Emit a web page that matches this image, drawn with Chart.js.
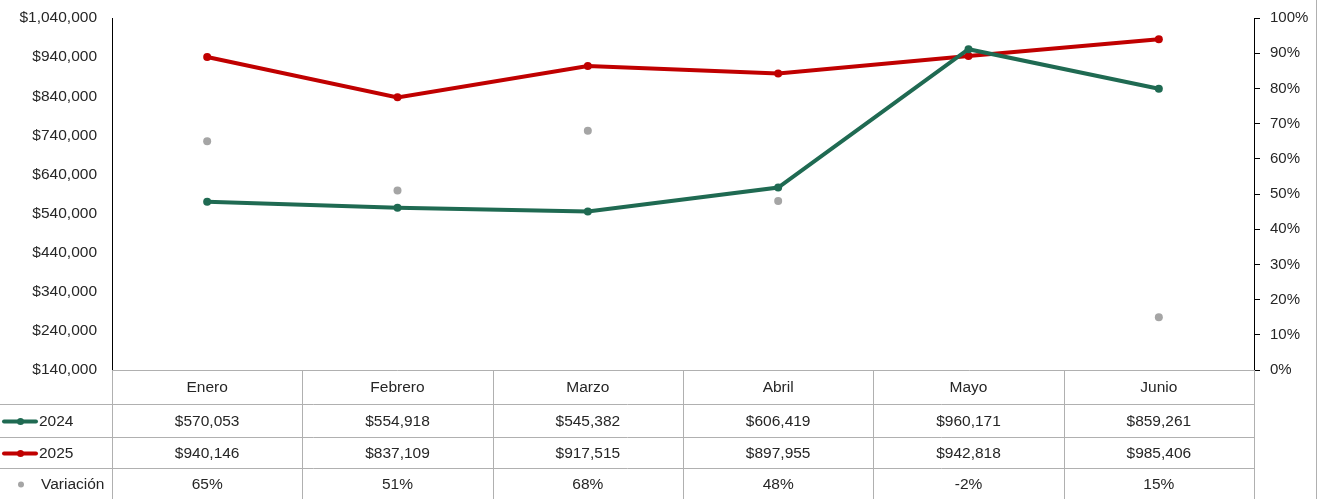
<!DOCTYPE html>
<html>
<head>
<meta charset="utf-8">
<script src="https://cdn.jsdelivr.net/npm/chart.js@4.4.1/dist/chart.umd.min.js"></script>
<style>
  html, body { margin: 0; padding: 0; background: #fff; }
  #wrap { position: relative; width: 1322px; height: 499px; }
</style>
</head>
<body>
<div id="wrap"><canvas id="c" width="1322" height="499"></canvas></div>
<script>
const categories = ['Enero', 'Febrero', 'Marzo', 'Abril', 'Mayo', 'Junio'];
const ventas2024 = [570053, 554918, 545382, 606419, 960171, 859261];
const ventas2025 = [940146, 837109, 917515, 897955, 942818, 985406];
const variacion = [65, 51, 68, 48, -2, 15];
const seriesNames = ['2024', '2025', 'Variación'];

const GREEN = '#1f6a52';
const RED = '#c00000';
const GRAY = '#a5a5a5';
const LINE = '#b0b0b0';
const TEXT = '#262626';
const FONT = "'Liberation Sans', Arial, sans-serif";

const money = v => '$' + Math.round(v).toLocaleString('en-US');
const pct = v => Math.round(v) + '%';

const tablePlugin = {
  id: 'dataTable',
  afterDraw(chart) {
    const ctx = chart.ctx;
    const xs = chart.scales.x;
    const area = chart.chartArea;
    const left = area.left, right = area.right;
    const rowsY = [area.bottom, area.bottom + 34, area.bottom + 67, area.bottom + 98];
    const bottom = chart.height;
    ctx.save();
    ctx.strokeStyle = LINE;
    ctx.lineWidth = 1;
    ctx.beginPath();
    ctx.moveTo(left, rowsY[0] + 0.5); ctx.lineTo(right + 1, rowsY[0] + 0.5);
    for (let i = 1; i < rowsY.length; i++) {
      ctx.moveTo(0, rowsY[i] + 0.5); ctx.lineTo(right + 1, rowsY[i] + 0.5);
    }
    for (let i = 0; i <= categories.length; i++) {
      const x = Math.round(left + i * (right - left) / categories.length) + 0.5;
      ctx.moveTo(x, rowsY[0]); ctx.lineTo(x, bottom);
    }
    ctx.moveTo(1316.5, 0); ctx.lineTo(1316.5, bottom);
    ctx.stroke();

    ctx.fillStyle = TEXT;
    ctx.font = '15.5px ' + FONT;
    ctx.textAlign = 'center';
    ctx.textBaseline = 'middle';
    const rowMid = i => (rowsY[i] + (rowsY[i + 1] !== undefined ? rowsY[i + 1] : rowsY[i] + 31)) / 2 + 1;
    categories.forEach((c, i) => {
      const x = xs.getPixelForValue(i);
      ctx.fillText(c, x, rowMid(0));
      ctx.fillText(money(ventas2024[i]), x, rowMid(1));
      ctx.fillText(money(ventas2025[i]), x, rowMid(2));
      ctx.fillText(pct(variacion[i]), x, rowMid(3));
    });

    const drawKey = (row, color) => {
      const y = rowMid(row);
      ctx.strokeStyle = color; ctx.lineWidth = 4; ctx.lineCap = 'round';
      ctx.beginPath(); ctx.moveTo(4, y); ctx.lineTo(36, y); ctx.stroke();
      ctx.fillStyle = color;
      ctx.beginPath(); ctx.arc(20.5, y, 3.5, 0, Math.PI * 2); ctx.fill();
    };
    drawKey(1, GREEN);
    drawKey(2, RED);
    ctx.fillStyle = GRAY;
    ctx.beginPath(); ctx.arc(21, rowMid(3), 3, 0, Math.PI * 2); ctx.fill();

    ctx.fillStyle = TEXT;
    ctx.textAlign = 'left';
    ctx.fillText(seriesNames[0], 39, rowMid(1));
    ctx.fillText(seriesNames[1], 39, rowMid(2));
    ctx.fillText(seriesNames[2], 41, rowMid(3));
    ctx.restore();
  }
};

new Chart(document.getElementById('c'), {
  type: 'line',
  data: {
    labels: categories,
    datasets: [
      {
        label: seriesNames[0], data: ventas2024, yAxisID: 'y',
        borderColor: GREEN, backgroundColor: GREEN, borderWidth: 4,
        pointRadius: 4, pointBorderWidth: 0, pointBackgroundColor: GREEN, tension: 0
      },
      {
        label: seriesNames[1], data: ventas2025, yAxisID: 'y',
        borderColor: RED, backgroundColor: RED, borderWidth: 4,
        pointRadius: 4, pointBorderWidth: 0, pointBackgroundColor: RED, tension: 0
      },
      {
        label: seriesNames[2], data: variacion, yAxisID: 'y1', showLine: false,
        borderColor: GRAY, backgroundColor: GRAY, borderWidth: 0,
        pointRadius: 4, pointBorderWidth: 0, pointBackgroundColor: GRAY, clip: 0, order: 3
      }
    ]
  },
  options: {
    responsive: false,
    animation: false,
    layout: { padding: { top: 18, bottom: 129, left: 0, right: 0 } },
    plugins: { legend: { display: false }, tooltip: { enabled: false } },
    scales: {
      x: { type: 'category', display: false, offset: true },
      y: {
        position: 'left', min: 140000, max: 1040000,
        afterFit(s) { s.width = 112; s.paddingTop = 0; s.paddingBottom = 0; },
        grid: { display: false, drawTicks: false },
        border: { display: true, color: '#000', width: 1 },
        ticks: { stepSize: 100000, padding: 15, color: TEXT, font: { family: FONT, size: 15.5 }, callback: v => money(v) }
      },
      y1: {
        position: 'right', min: 0, max: 100,
        afterFit(s) { s.width = 68; s.paddingTop = 0; s.paddingBottom = 0; },
        grid: { display: true, drawOnChartArea: false, drawTicks: true, tickLength: 6, color: '#000' },
        border: { display: true, color: '#000', width: 1 },
        ticks: { stepSize: 10, padding: 10, color: TEXT, font: { family: FONT, size: 15 }, callback: v => v + '%' }
      }
    }
  },
  plugins: [tablePlugin]
});
</script>
</body>
</html>
